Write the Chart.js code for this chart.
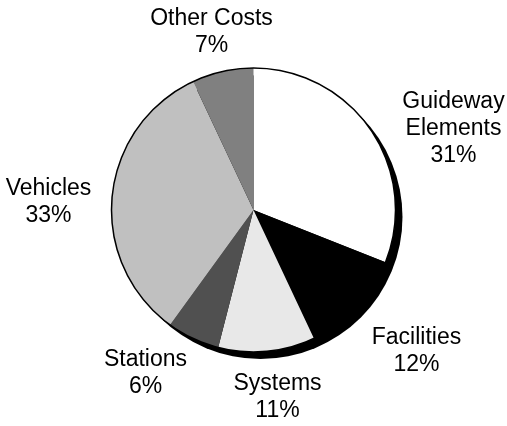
<!DOCTYPE html>
<html>
<head>
<meta charset="utf-8">
<script src="https://cdn.jsdelivr.net/npm/chart.js@4.4.1/dist/chart.umd.min.js"></script>
<style>
  html, body { margin: 0; padding: 0; background: #fff; }
  #wrap { width: 507px; height: 426px; }
</style>
</head>
<body>
<div id="wrap"><canvas id="costChart"></canvas></div>
<script>
/* Capital cost breakdown pie */
const categories = ['Guideway Elements', 'Facilities', 'Systems', 'Stations', 'Vehicles', 'Other Costs'];
const shares = [31, 12, 11, 6, 33, 7];
const sliceColors = ['#ffffff', '#000000', '#e8e8e8', '#505050', '#c0c0c0', '#808080'];

// label lines and where each block sits, relative to the pie centre
const labelLines = [['Guideway', 'Elements'], ['Facilities'], ['Systems'], ['Stations'], ['Vehicles'], ['Other Costs']];
const labelOffsets = [[200, -81], [163, 141], [24, 187], [-108, 163], [-205, -8], [-42, -178]];

const FONT = '23px "Liberation Sans", Arial, sans-serif';
const LINE_H = 27;

function pieGeom(chart){
  const arc = chart.getDatasetMeta(0).data[0];
  return { x: arc.x, y: arc.y, r: arc.outerRadius };
}

// black disc behind the pie, nudged down-right, plus a thin rim after drawing
const shadowPlugin = {
  id: 'pieShadow',
  beforeDatasetsDraw(chart){
    const g = pieGeom(chart), ctx = chart.ctx;
    ctx.save();
    ctx.fillStyle = '#000';
    ctx.beginPath();
    ctx.arc(g.x + 7, g.y + 7, g.r, 0, Math.PI * 2);
    ctx.fill();
    ctx.restore();
  },
  afterDatasetsDraw(chart){
    const g = pieGeom(chart), ctx = chart.ctx;
    ctx.save();
    ctx.strokeStyle = '#000';
    ctx.lineWidth = 1.5;
    ctx.beginPath();
    ctx.arc(g.x, g.y, g.r, 0, Math.PI * 2);
    ctx.stroke();
    ctx.restore();
  }
};

const labelPlugin = {
  id: 'sliceLabels',
  afterDraw(chart){
    const g = pieGeom(chart), ctx = chart.ctx;
    ctx.save();
    ctx.font = FONT;
    ctx.fillStyle = '#000';
    ctx.textAlign = 'center';
    ctx.textBaseline = 'middle';
    shares.forEach((v, i) => {
      const lines = labelLines[i].concat([v + '%']);
      const cx = g.x + labelOffsets[i][0];
      const top = g.y + labelOffsets[i][1] - (lines.length - 1) * LINE_H / 2;
      lines.forEach((t, k) => ctx.fillText(t, cx, top + k * LINE_H));
    });
    ctx.restore();
  }
};

new Chart(document.getElementById('costChart'), {
  type: 'pie',
  plugins: [shadowPlugin, labelPlugin],
  data: {
    labels: categories,
    datasets: [{
      data: shares,
      backgroundColor: sliceColors,
      borderWidth: 0
    }]
  },
  options: {
    responsive: true,
    maintainAspectRatio: false,
    animation: false,
    events: [],
    layout: { padding: { top: 68, bottom: 74, left: 0, right: 0 } },
    plugins: {
      legend: { display: false },
      tooltip: { enabled: false }
    }
  }
});
</script>
</body>
</html>
